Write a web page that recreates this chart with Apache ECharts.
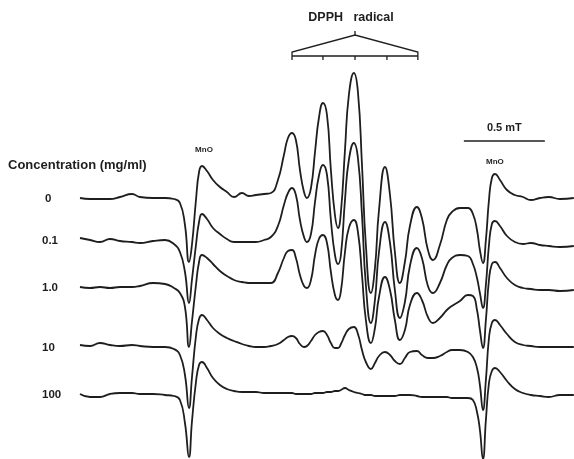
<!DOCTYPE html>
<html><head><meta charset="utf-8">
<script src="https://cdn.jsdelivr.net/npm/echarts@6/dist/echarts.min.js"></script>
<style>html,body{margin:0;padding:0;background:#fff}#c{width:574px;height:459px}</style>
</head><body><div id="c"></div>
<script>
// magnetic field (mT, relative to left edge of the scan)
const field = [0.000,0.062,0.123,0.185,0.247,0.321,0.370,0.451,0.525,0.580,
0.617,0.648,0.673,0.691,0.716,0.735,0.753,0.784,0.821,0.864,
0.907,0.951,1.000,1.043,1.086,1.136,1.179,1.222,1.259,1.284,
1.309,1.333,1.358,1.383,1.401,1.426,1.451,1.475,1.500,1.525,
1.549,1.574,1.593,1.611,1.636,1.660,1.691,1.716,1.741,1.765,
1.796,1.821,1.846,1.883,1.914,1.944,1.975,2.006,2.037,2.080,
2.111,2.148,2.179,2.222,2.265,2.296,2.346,2.395,2.426,2.451,
2.469,2.488,2.506,2.525,2.543,2.562,2.593,2.636,2.685,2.735,
2.784,2.840,2.895,2.963,3.049];

const concentrations = ['0','0.1','1.0','10','100'];

// ESR signal (a.u.) for each concentration
const signal0 = [0,-1,-1,-1,1,4,1,0,0,-1,
-5,-27,-64,-47,-2,26,32,27,18,11,
6,1,5,2,3,4,5,18,43,60,
65,58,28,6,0,10,46,80,95,83,
28,-17,-30,-14,48,103,125,106,33,-47,
-95,-70,-12,31,3,-54,-85,-64,-28,-9,
-20,-52,-62,-47,-22,-14,-10,-10,-16,-32,
-52,-65,-42,-2,20,24,18,8,3,1,
-2,0,1,-1,0];
const signal01 = [2,0,-2,1,-1,-2,-3,-1,0,-4,
-12,-32,-63,-40,-5,18,26,21,12,6,
1,-2,-2,-2,-2,0,3,14,35,47,
52,45,20,3,-2,6,38,64,75,65,
20,-15,-24,-15,40,80,97,82,25,-45,
-83,-60,-12,18,-3,-50,-78,-62,-26,-8,
-18,-46,-53,-43,-25,-18,-15,-16,-24,-38,
-53,-68,-45,-5,16,19,14,4,-2,-4,
-3,-5,-6,-7,-6];
const signal1 = [0,-1,0,-1,0,0,1,4,3,-1,
-6,-20,-60,-35,2,25,32,29,23,16,
11,7,5,4,4,4,4,14,29,36,
37,29,12,1,-1,7,32,48,52,44,
15,-8,-13,-4,35,59,67,55,12,-33,
-56,-41,-10,10,-3,-33,-53,-43,-18,-6,
-13,-30,-36,-31,-23,-19,-14,-8,-9,-23,
-43,-61,-33,7,23,25,19,9,2,-1,
-2,-3,-3,-4,-3];
const signal10 = [2,1,4,2,1,2,1,0,0,-2,
-8,-28,-61,-31,11,28,32,27,19,13,
9,6,3,1,0,0,1,3,7,10,
11,9,3,0,1,6,12,15,16,12,
4,-1,-1,3,12,18,20,13,-3,-15,
-22,-16,-9,-5,-8,-14,-17,-11,-5,-4,
-8,-11,-11,-9,-5,-3,-3,-5,-10,-21,
-38,-63,-33,9,24,27,22,13,5,2,
1,0,0,0,0];
const signal100 = [0,-3,-3,0,1,1,0,0,-1,-2,
-6,-29,-63,-28,12,29,32,26,16,9,
5,3,2,2,2,1,1,1,1,1,
1,0,0,0,0,0,1,1,1,2,
2,3,3,4,6,4,2,1,0,-1,
-1,-2,-2,-2,-2,-2,-1,-1,-1,-2,
-3,-3,-3,-3,-3,-4,-4,-4,-6,-18,
-36,-65,-26,11,23,26,22,13,5,1,
-1,-2,-3,-1,-1];

// vertical stacking offset of each trace (a.u.)
const traceOffsets = [0,-42,-89,-149,-196];
// DPPH quintet line positions (mT)
const dpphLines = [1.309,1.500,1.698,1.895,2.086];
// 0.5 mT scale bar (mT)
const scaleBar = [2.370,2.870];
// MnO marker lines (mT)
const mnoPeaks = [0.753,2.562];

const signals = [signal0,signal01,signal1,signal10,signal100];
const INK = '#1e1e1e';
const FONT = '"Liberation Sans", Arial, sans-serif';

const chart = echarts.init(document.getElementById('c'), null, {renderer:'canvas'});
chart.setOption({
  animation:false,
  backgroundColor:'#fff',
  grid:{left:80,right:0,top:0,bottom:0},
  xAxis:{type:'value',min:0,max:3.05,show:false},
  yAxis:{type:'value',min:-261,max:198,show:false},
  series: signals.map((s,k)=>({
    type:'line',
    name:concentrations[k],
    data: field.map((f,i)=>[f, s[i]+traceOffsets[k]]),
    showSymbol:false,
    smooth:0.5,
    clip:false,
    lineStyle:{color:INK,width:1.8},
    silent:true
  }))
});

function px(x,y){ return chart.convertToPixel({gridIndex:0},[x,y||0]); }
const g = [];
const txt = (x,y,text,size,align,weight)=>({type:'text',x:x,y:y,silent:true,
  style:{text:text,fontSize:size,fontWeight:weight||'bold',fontFamily:FONT,fill:INK,align:align||'center',verticalAlign:'middle'}});
const ln = (x1,y1,x2,y2,w)=>({type:'line',silent:true,shape:{x1:x1,y1:y1,x2:x2,y2:y2},style:{stroke:INK,lineWidth:w||1.3}});

// DPPH bracket
const dx = dpphLines.map(v=>px(v)[0]);
const xc = dx[2];
g.push(txt(xc-4,18,'DPPH   radical',12.5));
g.push({type:'polyline',silent:true,shape:{points:[[dx[0],60],[dx[0],52],[xc,35],[dx[4],52],[dx[4],60]]},style:{stroke:INK,lineWidth:1.3,fill:null}});
g.push(ln(dx[0],56,dx[4],56));
g.push(ln(xc,31,xc,35));
[1,2,3].forEach(i=>g.push(ln(dx[i],56,dx[i],60)));

// scale bar
const s0 = px(scaleBar[0])[0], s1 = px(scaleBar[1])[0];
g.push(ln(s0,141,s1,141,1.5));
g.push(txt((s0+s1)/2,128,'0.5 mT',11));

// MnO labels
g.push(txt(px(mnoPeaks[0])[0]+2,150,'MnO',8));
g.push(txt(px(mnoPeaks[1])[0],162,'MnO',8));

// concentration labels
g.push(txt(8,165,'Concentration (mg/ml)',13,'left'));
concentrations.forEach((c,k)=>{
  const y = px(0,traceOffsets[k])[1];
  g.push(txt(k===0?45:42,y+1,c,11.5,'left'));
});
chart.setOption({graphic:g});
</script></body></html>
